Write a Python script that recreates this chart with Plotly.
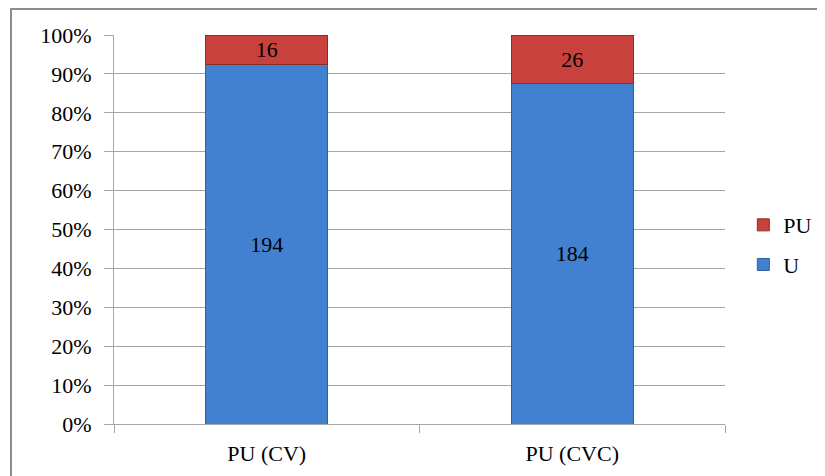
import plotly.graph_objects as go

categories = ["PU (CV)", "PU (CVC)"]
u_values = [194, 184]
pu_values = [16, 26]
tick_vals = [0, 10, 20, 30, 40, 50, 60, 70, 80, 90, 100]
tick_text = ["0%", "10%", "20%", "30%", "40%", "50%", "60%", "70%", "80%", "90%", "100%"]

font_family = "Liberation Serif, Times New Roman, serif"

fig = go.Figure()
fig.add_trace(go.Bar(
    x=categories, y=u_values, name="U", legendgroup="u", legendrank=2,
    marker=dict(color="#4281D0", line=dict(color="#2F5F9E", width=1)),
    text=[str(v) for v in u_values], textposition="inside", textangle=0,
    insidetextanchor="middle",
    textfont=dict(family=font_family, size=22, color="black"),
))
fig.add_trace(go.Bar(
    x=categories, y=pu_values, name="PU", legendgroup="pu", legendrank=1,
    marker=dict(color="#C9413D", line=dict(color="#8E2A27", width=1)),
    text=[str(v) for v in pu_values], textposition="inside", textangle=0,
    insidetextanchor="middle",
    textfont=dict(family=font_family, size=22, color="black"),
))

fig.update_layout(
    width=825, height=476,
    barmode="stack", barnorm="percent", bargap=0.6,
    plot_bgcolor="white", paper_bgcolor="white",
    margin=dict(l=106, r=108, t=27, b=60, autoexpand=False),
    font=dict(family=font_family, size=22, color="black"),
    uniformtext=dict(mode="show", minsize=22),
    legend=dict(
        x=1.03, xanchor="left", y=0.46, yanchor="middle",
        traceorder="grouped", font=dict(size=22),
        itemwidth=30, tracegroupgap=8,
    ),
    shapes=[dict(
        type="rect", xref="paper", yref="paper",
        x0=-0.1686, x1=1.25, y0=-0.25, y1=1.067,
        line=dict(color="#8C8C8C", width=2), fillcolor="rgba(0,0,0,0)",
        layer="below",
    )],
)
fig.update_yaxes(
    range=[0, 100], tickvals=tick_vals, ticktext=tick_text,
    showgrid=True, gridcolor="#A6A6A6", gridwidth=1,
    showline=True, linecolor="#A6A6A6", linewidth=1,
    ticks="outside", ticklen=9, tickcolor="#A6A6A6",
    ticklabelstandoff=8,
    zeroline=False,
    tickfont=dict(family=font_family, size=22),
)
fig.update_xaxes(
    showline=True, linecolor="#A6A6A6", linewidth=1,
    ticks="outside", tickson="boundaries", ticklen=8, tickcolor="#A6A6A6",
    ticklabelstandoff=10,
    tickfont=dict(family=font_family, size=22),
)

fig.write_html("out.html")
